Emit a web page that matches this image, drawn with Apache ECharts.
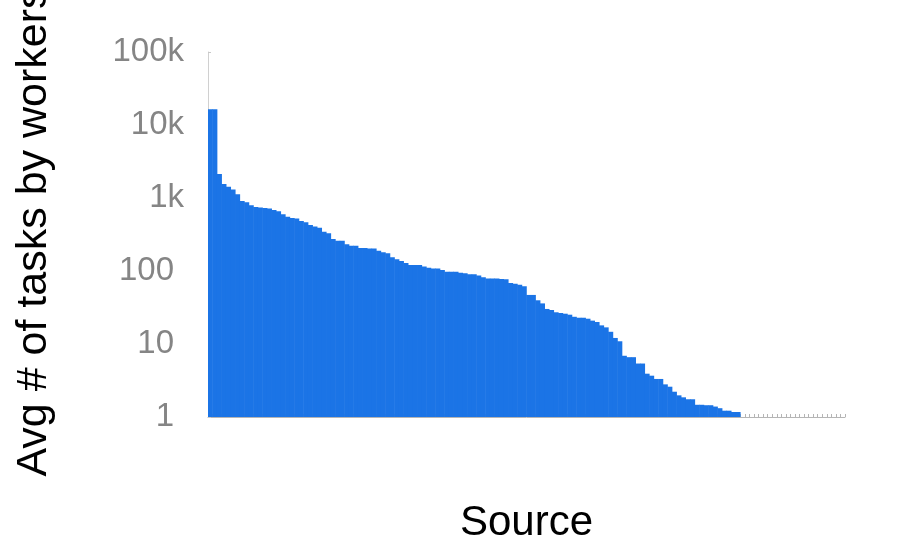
<!DOCTYPE html>
<html>
<head>
<meta charset="utf-8">
<title>Avg tasks by workers per source</title>
<script src="https://cdn.jsdelivr.net/npm/echarts@6/dist/echarts.min.js"></script>
<style>
  html, body { margin: 0; padding: 0; background: #fff; }
  #chart { width: 922px; height: 553px; }
</style>
</head>
<body>
<div id="chart"></div>
<script>
/*----------------------------- data --------------------*/
// one bar per source, sorted by value (read off the log scale)
var topSources = [16400, 16400, 2130, 1560, 1430, 1310, 1130, 910, 873, 795,
  753, 740, 730, 720, 685, 657, 598, 554, 532, 522,
  484, 465, 426, 408, 392, 345, 328, 274, 260, 260,
  232, 222, 222, 207, 207, 204, 204, 190, 180, 175];
var midSources = [154, 145, 137, 129, 121, 121, 121, 115, 111, 108,
  108, 103, 98, 98, 98, 95, 93, 90, 90, 87,
  82, 79, 79, 79, 78, 77, 68.5, 67, 65, 62,
  47, 47, 39.7, 36, 30.2, 29.2, 27.2, 26.6, 26, 25.2];
var tailSources = [23.6, 22.9, 22.9, 22.2, 20.9, 20, 18, 16.9, 14.7, 12.1,
  10.9, 6.9, 6.6, 6.6, 5.4, 5.4, 3.92, 3.68, 3.32, 3.32,
  2.8, 2.6, 2.22, 1.98, 1.86, 1.75, 1.75, 1.47, 1.47, 1.45,
  1.45, 1.39, 1.32, 1.22, 1.22, 1.17, 1.17];
// sources that sit at 1 (no visible bar)
var flatSources = [1, 1, 1, 1, 1, 1, 1, 1, 1, 1, 1, 1, 1, 1, 1, 1, 1, 1, 1, 1, 1, 1, 1];

var yTickLabels = { 1: '1', 10: '10', 100: '100', 1000: '1k', 10000: '10k', 100000: '100k' };

var values = topSources.concat(midSources, tailSources, flatSources);
var categories = values.map(function (v, i) { return 'S' + (i + 1); });

/*----------------------------- chart --------------------*/
var font = '"Liberation Sans", Arial, Helvetica, sans-serif';
var barColor = '#1b74e6';
var myChart = echarts.init(document.getElementById('chart'), null, { renderer: 'canvas' });

var option = {
  animation: false,
  // keep the grid where it is, the y name is allowed to run off the top
  grid: { left: 208, right: 77, top: 52, bottom: 136, outerBoundsMode: 'none' },
  xAxis: {
    type: 'category',
    data: categories,
    name: 'Source',
    nameLocation: 'middle',
    nameGap: 85,
    nameTextStyle: { fontFamily: font, fontSize: 42, color: '#000' },
    axisLine: { lineStyle: { color: '#b5b5b5', width: 1 } },
    axisTick: { show: true, inside: true, length: 3, interval: 0, lineStyle: { color: '#b5b5b5' } },
    axisLabel: { show: false },
    splitLine: { show: false }
  },
  yAxis: {
    type: 'log',
    logBase: 10,
    min: 1,
    max: 100000,
    name: 'Avg # of tasks by workers',
    nameLocation: 'middle',
    nameGap: 152,
    nameTextStyle: { fontFamily: font, fontSize: 43, color: '#000', padding: [0, 0, 0, 5] },
    axisLine: { show: true, lineStyle: { color: '#d0d0d0', width: 1 } },
    axisTick: { show: true, inside: true, length: 3, lineStyle: { color: '#c8c8c8' } },
    splitLine: { show: false },
    axisLabel: {
      margin: 24,
      fontFamily: font,
      fontSize: 33,
      color: '#858585',
      formatter: function (v) {
        var txt = yTickLabels[Math.round(v)] || String(v);
        // labels without the "k" sit a little further left, like the original
        return v >= 1000 ? txt : '{n|' + txt + '}';
      },
      rich: {
        n: { fontFamily: font, fontSize: 33, color: '#858585', padding: [0, 10, 0, 0] }
      }
    }
  },
  series: [
    {
      type: 'bar',
      data: values,
      // slightly wider than the band so neighbouring bars overlap and no seams show
      barWidth: '112%',
      itemStyle: { color: barColor }
    }
  ]
};
myChart.setOption(option);
</script>
</body>
</html>
